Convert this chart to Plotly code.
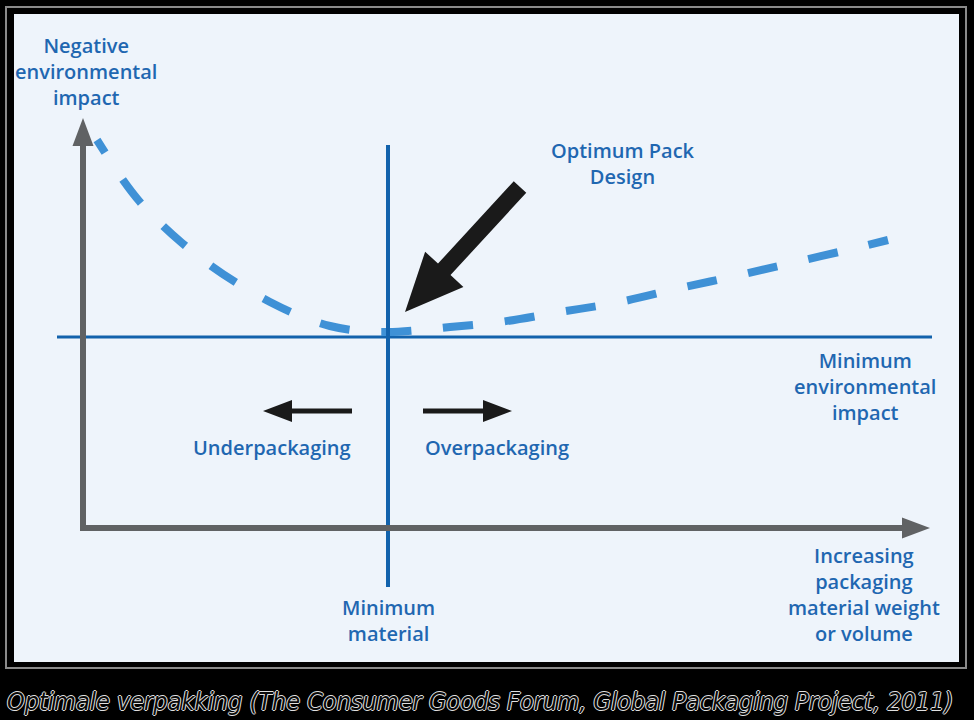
import numpy as np
import plotly.graph_objects as go

# ---------------- data (in picture units) ----------------
curve_x = [97, 123, 140, 162, 182, 210, 240, 270, 300, 330, 360, 388, 420, 450, 500, 560, 620, 680, 740, 800, 860, 888]
curve_y = [140, 180, 202, 225, 243, 265, 285, 302, 316, 326, 331, 332, 330, 327, 322, 312, 302, 288, 275, 261, 247, 240]

min_impact_y = 337          # horizontal "minimum environmental impact" line
min_impact_x = [57, 932]
min_material_x = 388        # vertical "minimum material" line
min_material_y = [145, 587]

axis_origin = (83, 528)
y_axis_tip = (83, 118)
x_axis_tip = (930, 528)

big_arrow = ((520, 187), (405, 312))      # tail, tip
under_arrow = ((352, 411), (263, 411))
over_arrow = ((423, 411), (512, 411))

labels = [
    ("Negative<br>environmental<br>impact", 86, 71.5),
    ("Optimum Pack<br>Design", 623, 163.5),
    ("Minimum<br>environmental<br>impact", 865, 386),
    ("Underpackaging", 272, 447),
    ("Overpackaging", 497, 447),
    ("Minimum<br>material", 388, 620),
    ("Increasing<br>packaging<br>material weight<br>or volume", 864, 594.5),
]
caption = "Optimale verpakking (The Consumer Goods Forum, Global Packaging Project, 2011)"

# ---------------- styles ----------------
TEXT_BLUE = "#1F67B1"
LINE_BLUE = "#1262AC"
CURVE_BLUE = "#3F91D6"
AXIS_GRAY = "#606264"
PANEL = "#EEF4FB"
FIRST_DASH, DASH, GAP = 15, 30, 32


def arrow_polygon(tail, tip, shaft_w, head_w, head_len):
    t = np.array(tail, float)
    p = np.array(tip, float)
    d = p - t
    L = np.hypot(*d)
    u = d / L
    n = np.array([-u[1], u[0]])
    b = p - u * head_len
    pts = [t + n * shaft_w / 2, b + n * shaft_w / 2, b + n * head_w / 2, p,
           b - n * head_w / 2, b - n * shaft_w / 2, t - n * shaft_w / 2, t + n * shaft_w / 2]
    xs = [q[0] for q in pts]
    ys = [q[1] for q in pts]
    return xs, ys


dash_pattern = ",".join([f"{FIRST_DASH}px", f"{GAP}px"] + [f"{DASH}px,{GAP}px"] * 20)

fig = go.Figure()

# horizontal line
fig.add_trace(go.Scatter(x=min_impact_x, y=[min_impact_y, min_impact_y], mode="lines",
                         line=dict(color=LINE_BLUE, width=3), hoverinfo="skip"))
# dashed curve
fig.add_trace(go.Scatter(x=curve_x, y=curve_y, mode="lines",
                         line=dict(color=CURVE_BLUE, width=8, dash=dash_pattern, shape="spline", smoothing=1.0),
                         hoverinfo="skip"))
# vertical line
fig.add_trace(go.Scatter(x=[min_material_x, min_material_x], y=min_material_y, mode="lines",
                         line=dict(color=LINE_BLUE, width=4), hoverinfo="skip"))

# axes with arrowheads
for tail, tip in [((axis_origin[0], axis_origin[1] + 3), y_axis_tip),
                  ((axis_origin[0] - 3, axis_origin[1]), x_axis_tip)]:
    xs, ys = arrow_polygon(tail, tip, 6, 21, 28)
    fig.add_trace(go.Scatter(x=xs, y=ys, mode="lines", fill="toself", fillcolor=AXIS_GRAY,
                             line=dict(width=0, color=AXIS_GRAY), hoverinfo="skip"))

# black arrows
for (tail, tip), sw, hw, hl in [(big_arrow, 17, 52, 58), (under_arrow, 5, 22, 29), (over_arrow, 5, 22, 29)]:
    xs, ys = arrow_polygon(tail, tip, sw, hw, hl)
    fig.add_trace(go.Scatter(x=xs, y=ys, mode="lines", fill="toself", fillcolor="#1A1A1A",
                             line=dict(width=0, color="#1A1A1A"), hoverinfo="skip"))

annotations = []
for txt, x, y in labels:
    annotations.append(dict(text=txt, x=x, y=y, xref="x", yref="y", showarrow=False,
                            xanchor="center", yanchor="middle", align="center",
                            font=dict(family="Open Sans", size=20, color=TEXT_BLUE, weight=600)))
annotations.append(dict(text="<i>" + caption + "</i>", x=480, y=701, xref="x", yref="y", showarrow=False,
                        xanchor="center", yanchor="middle",
                        font=dict(family="Liberation Sans Narrow, DejaVu Sans Condensed", size=25, color="#0A0A0A",
                                  shadow="1px 0 0 #E0E0E0, -1px 0 0 #E0E0E0, 0 1px 0 #E0E0E0, 0 -1px 0 #E0E0E0")))

shapes = [
    dict(type="rect", xref="x", yref="y", x0=6, x1=966, y0=7, y1=668, layer="below",
         line=dict(color="#8A8A8A", width=2), fillcolor="#000000"),
    dict(type="rect", xref="x", yref="y", x0=14, x1=959, y0=14, y1=662, layer="below",
         line=dict(width=0), fillcolor=PANEL),
]

fig.update_layout(
    width=974, height=720,
    margin=dict(l=0, r=0, t=0, b=0),
    paper_bgcolor="#000000", plot_bgcolor="#000000",
    showlegend=False,
    xaxis=dict(range=[0, 974], visible=False, fixedrange=True),
    yaxis=dict(range=[720, 0], visible=False, fixedrange=True),
    annotations=annotations,
    shapes=shapes,
)

fig.write_html("out.html")
